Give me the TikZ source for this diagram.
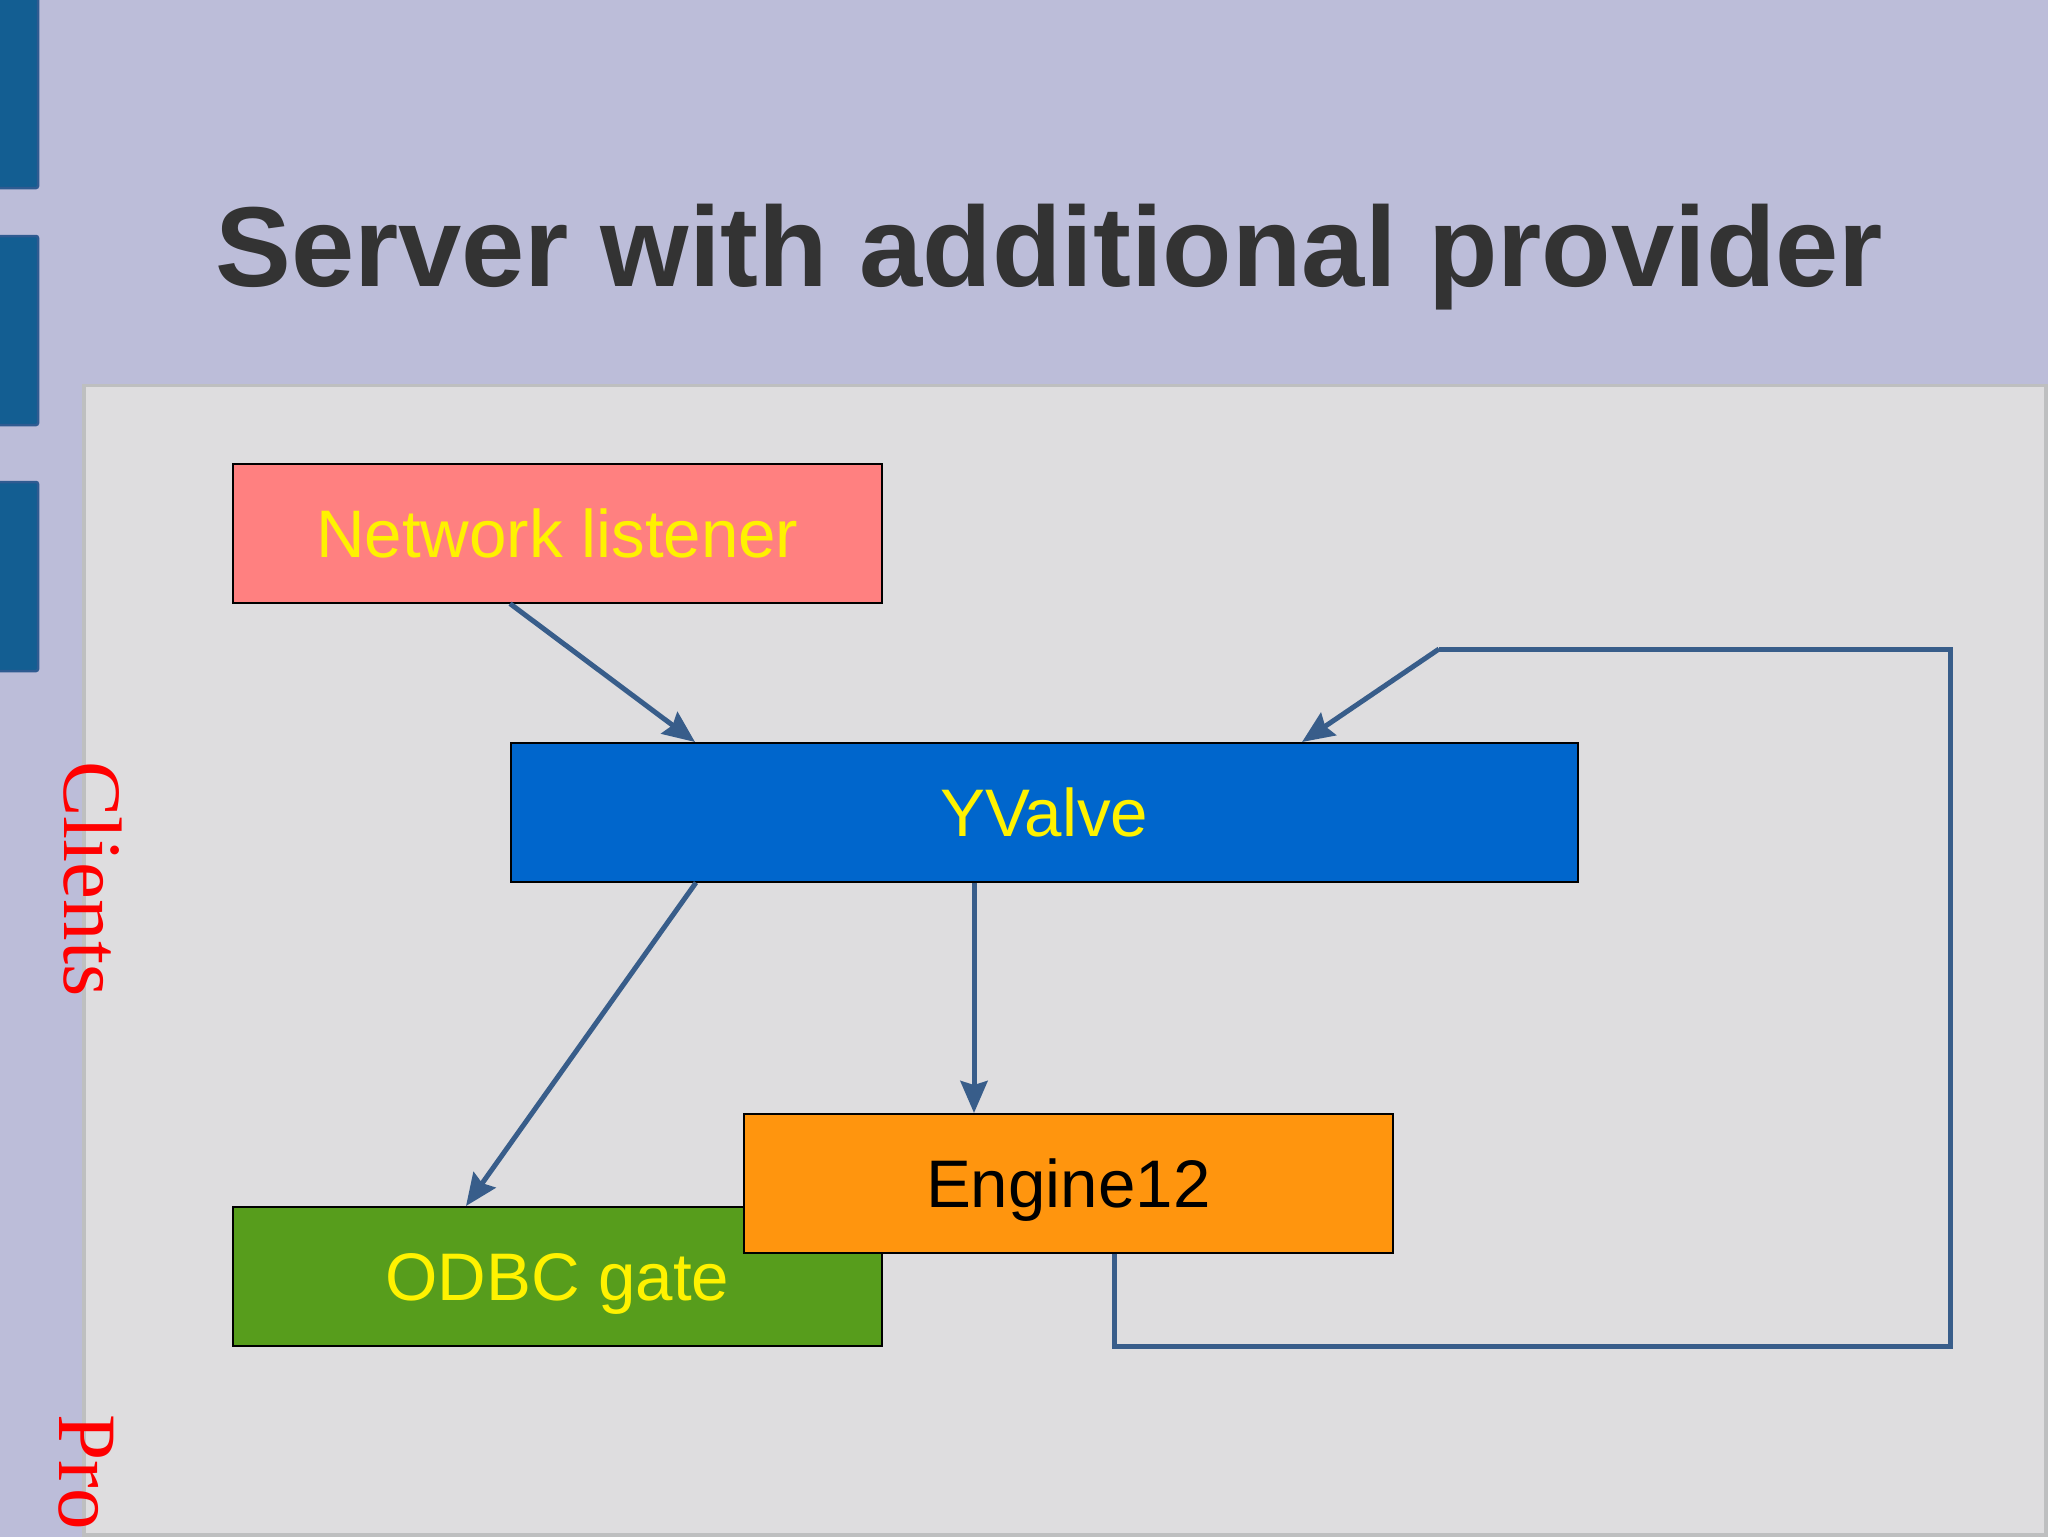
\documentclass[tikz,border=0pt]{standalone}
\usepackage{fontspec}
\setmainfont{Liberation Sans}
\newfontfamily\serifface{Liberation Serif}
\usetikzlibrary{arrows.meta,calc}
\definecolor{bgc}{HTML}{BCBDD9}
\definecolor{panelc}{HTML}{DEDDDF}
\definecolor{panelb}{HTML}{BEBFC0}
\definecolor{blockc}{HTML}{135E92}
\definecolor{blockb}{HTML}{2F5B91}
\definecolor{linkc}{HTML}{385D8A}
\definecolor{titlec}{HTML}{333333}
\definecolor{nlc}{HTML}{FF8080}
\definecolor{odbcc}{HTML}{579D1C}
\definecolor{yvc}{HTML}{0066CC}
\definecolor{engc}{HTML}{FF950E}
\tikzset{
  x=1pt,y=-1pt,
  box/.style={draw=black,line width=1.6pt,minimum width=649pt,minimum height=139pt,inner sep=0pt,anchor=north west,text height=48pt,text depth=0pt,font=\fontsize{67.3}{70}\selectfont},
  link/.style={draw=linkc,line width=5pt},
  tip/.style={link,-{Stealth[length=32pt,width=27pt,inset=4pt]}},
  side/.style={rounded corners=2pt,fill=blockc,draw=blockb,line width=2.5pt},
  vlabel/.style={text=red,rotate=-90,anchor=base west,inner sep=0pt,font=\serifface\fontsize{83}{88}\selectfont}
}
\begin{document}
\begin{tikzpicture}
\useasboundingbox (0,0) rectangle (2048,1537);
\fill[bgc] (0,0) rectangle (2048,1537);
\draw[side] (-5,-5) rectangle (38,188);
\draw[side] (-5,236) rectangle (38,425);
\draw[side] (-5,482) rectangle (38,671);
\filldraw[fill=panelc,draw=panelb,line width=3.5pt] (84,385.5) rectangle (2046,1535);
\node[anchor=base west,inner sep=0pt,text=titlec,font=\bfseries\fontsize{113.7}{118}\selectfont] (title) at (215,286) {Server with additional provider};
\node[box,fill=nlc,text=yellow] (nl) at (232,463) {Network listener};
\node[box,fill=odbcc,text=yellow] (odbc) at (232,1206) {ODBC gate};
\node[box,fill=yvc,text=yellow,minimum width=1067pt] (yv) at (510,742) {YValve};
\node[box,fill=engc,text=black] (eng) at (743,1113) {Engine12};
\coordinate (c1) at (1114,1346);
\coordinate (c2) at (1950,1346);
\coordinate (c3) at (1950,649);
\coordinate (c4) at (1439,649);
\draw[tip] ($(nl.south west)+(278,0)$) -- ($(yv.north west)+(185,0)$);
\draw[tip] ($(yv.south west)+(186,0)$) -- ($(odbc.north west)+(234,0)$);
\draw[tip] ($(yv.south west)+(464,0)$) -- ($(eng.north west)+(231,0)$);
\draw[link] ($(eng.south west)+(371,0)$) -- (c1) -- (c2) -- (c3) -- (c4);
\draw[tip] (c4) -- ($(yv.north west)+(792,0)$);
\begin{scope}
\clip (0,0) rectangle (2048,1537);
\node[vlabel] (clients) at (64,761) {Clients};
\node[vlabel] (pro) at (59,1414) {Pro};
\end{scope}
\end{tikzpicture}
\end{document}
